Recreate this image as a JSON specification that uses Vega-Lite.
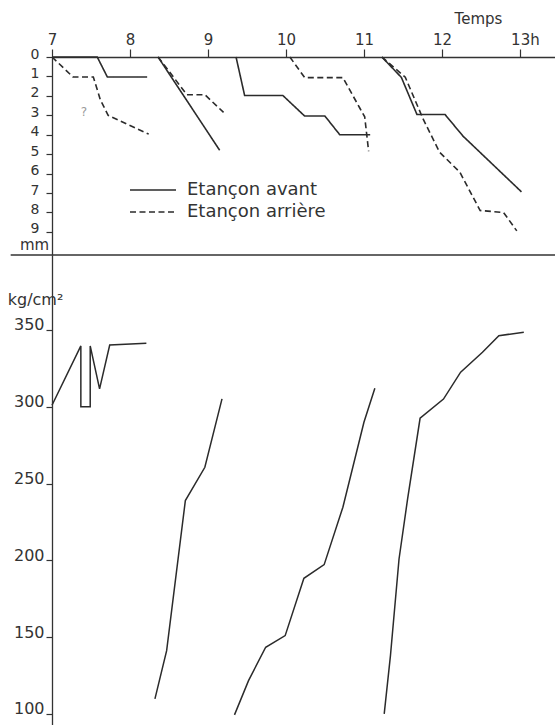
{
  "$schema": "https://vega.github.io/schema/vega-lite/v6.json",
  "background": "#ffffff",
  "padding": {"left": 7, "top": 11, "right": 0, "bottom": 0},
  "spacing": 0,
  "bounds": "flush",
  "config": {
    "font": "DejaVu Sans",
    "view": {"stroke": null},
    "axis": {"grid": false, "labelOverlap": false, "domainColor": "#333333", "tickColor": "#333333", "labelColor": "#333333", "titleColor": "#333333", "domainWidth": 1.3, "tickWidth": 1.2, "labelFont": "DejaVu Sans", "titleFont": "DejaVu Sans", "titleFontWeight": "normal"}
  },
  "resolve": {"legend": {"strokeDash": "independent"}},
  "vconcat": [
    {
      "width": 503,
      "height": 198,
      "encoding": {
        "x": {"field": "t", "type": "quantitative",
          "scale": {"domain": [7, 13.45], "nice": false, "zero": false},
          "axis": {"orient": "top", "values": [7, 8, 9, 10, 11, 12, 13], "format": "d",
            "labelExpr": "datum.value == 13 ? '13h' : datum.label",
            "labelFontSize": 15, "tickSize": 8, "labelPadding": 2, "labelFlush": false, "labelOverlap": false,
            "labelOffset": {"condition": {"test": "datum.value == 13", "value": 5}, "value": 0},
            "title": "Temps", "titleFontSize": 15, "titleX": 426, "titleY": -39,
            "titleAlign": "center", "titleBaseline": "middle"}},
        "y": {"field": "mm", "type": "quantitative",
          "scale": {"domain": [0, 10.19], "reverse": true, "nice": false, "zero": false},
          "axis": {"values": [0, 1, 2, 3, 4, 5, 6, 7, 8, 9], "format": "d",
            "labelFontSize": 14, "tickSize": 6, "labelPadding": 7, "labelBaseline": "middle", "labelOffset": -3, "labelFlush": false, "labelOverlap": false,
            "title": "mm", "titleFontSize": 15, "titleAngle": 0, "titleX": -18, "titleY": 187,
            "titleAlign": "center", "titleBaseline": "middle"}}
      },
      "layer": [
        {
          "data": {"values": [
            {"g": "a1", "s": "Etançon avant", "t": 7.0, "mm": 0, "i": 1},
            {"g": "a1", "s": "Etançon avant", "t": 7.58, "mm": 0, "i": 2},
            {"g": "a1", "s": "Etançon avant", "t": 7.71, "mm": 1.03, "i": 3},
            {"g": "a1", "s": "Etançon avant", "t": 8.22, "mm": 1.03, "i": 4},
            {"g": "a2", "s": "Etançon arrière", "t": 7.0, "mm": 0, "i": 1},
            {"g": "a2", "s": "Etançon arrière", "t": 7.27, "mm": 1.03, "i": 2},
            {"g": "a2", "s": "Etançon arrière", "t": 7.53, "mm": 1.03, "i": 3},
            {"g": "a2", "s": "Etançon arrière", "t": 7.62, "mm": 2.2, "i": 4},
            {"g": "a2", "s": "Etançon arrière", "t": 7.72, "mm": 3.0, "i": 5},
            {"g": "a2", "s": "Etançon arrière", "t": 8.24, "mm": 3.97, "i": 6},
            {"g": "b1", "s": "Etançon avant", "t": 8.36, "mm": 0, "i": 1},
            {"g": "b1", "s": "Etançon avant", "t": 9.15, "mm": 4.8, "i": 2},
            {"g": "b2", "s": "Etançon arrière", "t": 8.36, "mm": 0, "i": 1},
            {"g": "b2", "s": "Etançon arrière", "t": 8.73, "mm": 1.94, "i": 2},
            {"g": "b2", "s": "Etançon arrière", "t": 8.96, "mm": 1.94, "i": 3},
            {"g": "b2", "s": "Etançon arrière", "t": 9.2, "mm": 2.85, "i": 4},
            {"g": "c1", "s": "Etançon avant", "t": 9.36, "mm": 0, "i": 1},
            {"g": "c1", "s": "Etançon avant", "t": 9.47, "mm": 1.98, "i": 2},
            {"g": "c1", "s": "Etançon avant", "t": 9.96, "mm": 1.98, "i": 3},
            {"g": "c1", "s": "Etançon avant", "t": 10.24, "mm": 3.04, "i": 4},
            {"g": "c1", "s": "Etançon avant", "t": 10.5, "mm": 3.04, "i": 5},
            {"g": "c1", "s": "Etançon avant", "t": 10.69, "mm": 4.0, "i": 6},
            {"g": "c1", "s": "Etançon avant", "t": 11.08, "mm": 4.0, "i": 7},
            {"g": "c2", "s": "Etançon arrière", "t": 10.05, "mm": 0, "i": 1},
            {"g": "c2", "s": "Etançon arrière", "t": 10.24, "mm": 1.06, "i": 2},
            {"g": "c2", "s": "Etançon arrière", "t": 10.73, "mm": 1.06, "i": 3},
            {"g": "c2", "s": "Etançon arrière", "t": 10.95, "mm": 2.65, "i": 4},
            {"g": "c2", "s": "Etançon arrière", "t": 11.01, "mm": 3.08, "i": 5},
            {"g": "c2", "s": "Etançon arrière", "t": 11.06, "mm": 4.85, "i": 6},
            {"g": "d1", "s": "Etançon avant", "t": 11.23, "mm": 0, "i": 1},
            {"g": "d1", "s": "Etançon avant", "t": 11.48, "mm": 1.05, "i": 2},
            {"g": "d1", "s": "Etançon avant", "t": 11.68, "mm": 2.96, "i": 3},
            {"g": "d1", "s": "Etançon avant", "t": 12.04, "mm": 2.96, "i": 4},
            {"g": "d1", "s": "Etançon avant", "t": 12.27, "mm": 4.07, "i": 5},
            {"g": "d1", "s": "Etançon avant", "t": 13.02, "mm": 6.94, "i": 6},
            {"g": "d2", "s": "Etançon arrière", "t": 11.23, "mm": 0, "i": 1},
            {"g": "d2", "s": "Etançon arrière", "t": 11.38, "mm": 0.52, "i": 2},
            {"g": "d2", "s": "Etançon arrière", "t": 11.53, "mm": 1.04, "i": 3},
            {"g": "d2", "s": "Etançon arrière", "t": 11.76, "mm": 3.2, "i": 4},
            {"g": "d2", "s": "Etançon arrière", "t": 11.97, "mm": 4.9, "i": 5},
            {"g": "d2", "s": "Etançon arrière", "t": 12.23, "mm": 5.93, "i": 6},
            {"g": "d2", "s": "Etançon arrière", "t": 12.49, "mm": 7.9, "i": 7},
            {"g": "d2", "s": "Etançon arrière", "t": 12.79, "mm": 8.0, "i": 8},
            {"g": "d2", "s": "Etançon arrière", "t": 12.96, "mm": 8.95, "i": 9}
          ]},
          "mark": {"type": "line", "stroke": "#2b2b2b", "strokeWidth": 1.6},
          "encoding": {
            "detail": {"field": "g"},
            "strokeDash": {"field": "s", "type": "nominal",
              "scale": {"domain": ["Etançon avant", "Etançon arrière"], "range": [[1, 0], [6, 3.5]]},
              "legend": {"orient": "none", "legendX": 77, "legendY": 122, "title": null,
                "symbolType": "stroke", "symbolSize": 2116, "symbolStrokeWidth": 1.6, "symbolStrokeColor": "#2b2b2b",
                "labelFontSize": 18, "labelColor": "#333333", "labelOffset": 10, "clipHeight": 22,
                "rowPadding": 0, "padding": 0, "labelLimit": 300}},
            "order": {"field": "i", "type": "quantitative"}
          }
        },
        {
          "data": {"values": [{"t": 6.47, "t2": 13.45, "mm": 10.19}]},
          "mark": {"type": "rule", "stroke": "#333333", "strokeWidth": 1.3, "clip": false},
          "encoding": {
            "x2": {"field": "t2"}
          }
        },
        {
          "data": {"values": [{"t": 7.41, "mm": 2.84, "note": "?"}]},
          "mark": {"type": "text", "fontSize": 12, "color": "#9a9a9a"},
          "encoding": {
            "text": {"field": "note"}
          }
        }
      ]
    },
    {
      "width": 503,
      "height": 470,
      "data": {"values": [
        {"g": "B1", "t": 7.0, "p": 301, "i": 1},
        {"g": "B1", "t": 7.37, "p": 339.6, "i": 2},
        {"g": "B1", "t": 7.37, "p": 300, "i": 3},
        {"g": "B1", "t": 7.49, "p": 300, "i": 4},
        {"g": "B1", "t": 7.49, "p": 339.6, "i": 5},
        {"g": "B1", "t": 7.61, "p": 311.6, "i": 6},
        {"g": "B1", "t": 7.74, "p": 340.2, "i": 7},
        {"g": "B1", "t": 8.21, "p": 341.3, "i": 8},
        {"g": "B2", "t": 8.32, "p": 109.8, "i": 1},
        {"g": "B2", "t": 8.47, "p": 141.2, "i": 2},
        {"g": "B2", "t": 8.71, "p": 238.9, "i": 3},
        {"g": "B2", "t": 8.96, "p": 260.6, "i": 4},
        {"g": "B2", "t": 9.18, "p": 305.1, "i": 5},
        {"g": "B3", "t": 9.34, "p": 99.4, "i": 1},
        {"g": "B3", "t": 9.52, "p": 121.7, "i": 2},
        {"g": "B3", "t": 9.74, "p": 143.4, "i": 3},
        {"g": "B3", "t": 9.99, "p": 151, "i": 4},
        {"g": "B3", "t": 10.23, "p": 188.3, "i": 5},
        {"g": "B3", "t": 10.49, "p": 197.2, "i": 6},
        {"g": "B3", "t": 10.73, "p": 234.6, "i": 7},
        {"g": "B3", "t": 11.0, "p": 289.9, "i": 8},
        {"g": "B3", "t": 11.14, "p": 312, "i": 9},
        {"g": "B4", "t": 11.26, "p": 100, "i": 1},
        {"g": "B4", "t": 11.34, "p": 138, "i": 2},
        {"g": "B4", "t": 11.45, "p": 200.9, "i": 3},
        {"g": "B4", "t": 11.56, "p": 240, "i": 4},
        {"g": "B4", "t": 11.72, "p": 292.5, "i": 5},
        {"g": "B4", "t": 12.02, "p": 305, "i": 6},
        {"g": "B4", "t": 12.24, "p": 322.5, "i": 7},
        {"g": "B4", "t": 12.52, "p": 335.5, "i": 8},
        {"g": "B4", "t": 12.73, "p": 346.3, "i": 9},
        {"g": "B4", "t": 13.05, "p": 348.5, "i": 10}
      ]},
      "mark": {"type": "line", "stroke": "#2b2b2b", "strokeWidth": 1.5},
      "encoding": {
        "x": {"field": "t", "type": "quantitative",
          "scale": {"domain": [7, 13.45], "nice": false, "zero": false}, "axis": null},
        "y": {"field": "p", "type": "quantitative",
          "scale": {"domain": [92.8, 398.8], "nice": false, "zero": false},
          "axis": {"values": [100, 150, 200, 250, 300, 350],
            "labelFontSize": 16, "tickSize": 6, "labelPadding": 2, "labelBaseline": "middle", "labelOffset": -5, "labelFlush": false, "labelOverlap": false,
            "title": "kg/cm²", "titleFontSize": 16, "titleAngle": 0, "titleX": -17, "titleY": 44,
            "titleAlign": "center", "titleBaseline": "middle"}},
        "detail": {"field": "g"},
        "order": {"field": "i", "type": "quantitative"}
      }
    }
  ]
}
